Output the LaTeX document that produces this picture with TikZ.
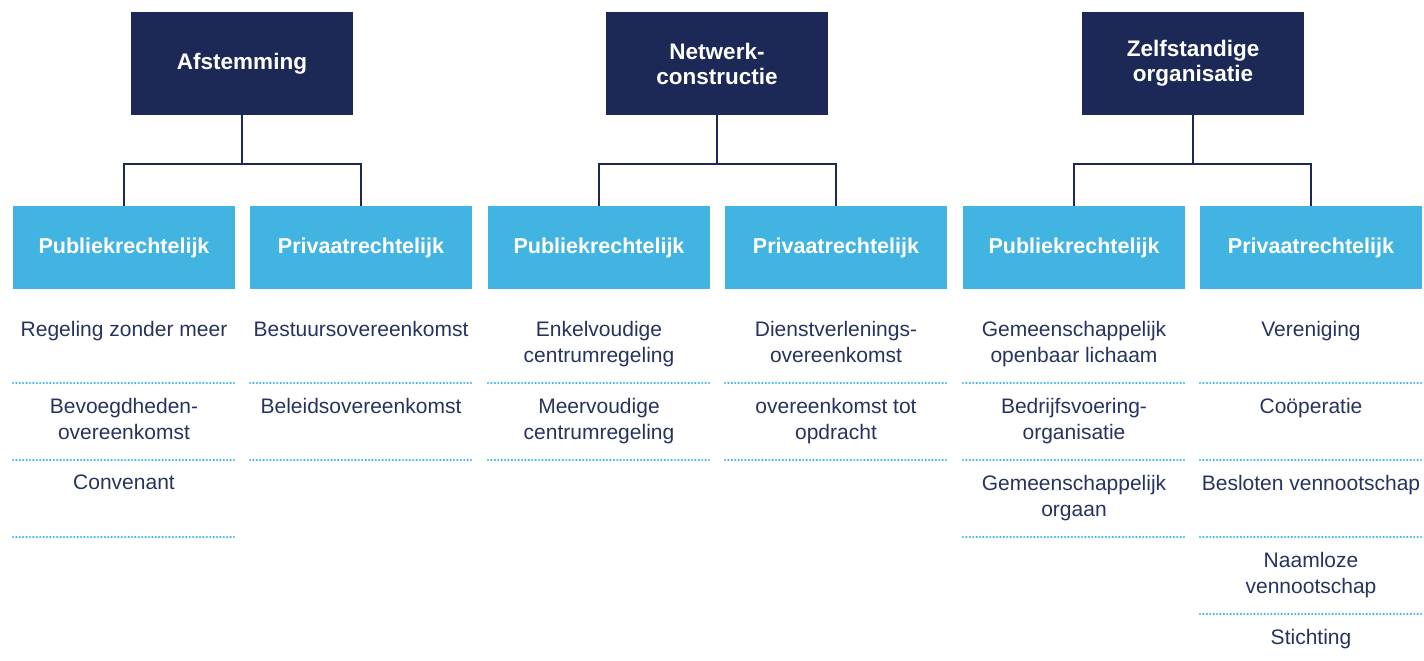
\documentclass[tikz,border=0pt]{standalone}
\usepackage{fontspec}
\setmainfont{Liberation Sans}
\definecolor{navy}{HTML}{1C2957}
\definecolor{sky}{HTML}{42B4E2}
\definecolor{txt}{HTML}{27335F}
\begin{document}
\begin{tikzpicture}[x=1pt,y=-1pt,
 topbox/.style={fill=navy, text=white, minimum width=222pt, minimum height=103pt, inner sep=0pt, font=\fontsize{22.5}{25}\selectfont\bfseries, align=center},
 headbox/.style={fill=sky, text=white, minimum width=222pt, minimum height=83pt, inner sep=0pt, font=\fontsize{21.5}{24}\selectfont\bfseries},
 item/.style={text=txt, anchor=north, inner sep=0pt, align=center, font=\fontsize{21}{26}\selectfont},
 link/.style={draw=navy, line width=2.2pt},
 sep/.style={draw=sky, line width=2.4pt, line cap=round, dash pattern=on 0pt off 3.4pt}]
\useasboundingbox (0,0) rectangle (1424,661);

% top boxes
\node[topbox] (tA) at (242,63.5) {Afstemming};
\node[topbox] (tN) at (717,63.5) {Netwerk-\\constructie};
\node[topbox] (tZ) at (1193,63.5) {Zelfstandige\\organisatie};

% header boxes
\node[headbox] (hA1) at (124,247.5) {Publiekrechtelijk};
\node[headbox] (hA2) at (361,247.5) {Privaatrechtelijk};
\node[headbox] (hN1) at (599,247.5) {Publiekrechtelijk};
\node[headbox] (hN2) at (836,247.5) {Privaatrechtelijk};
\node[headbox] (hZ1) at (1074,247.5) {Publiekrechtelijk};
\node[headbox] (hZ2) at (1311,247.5) {Privaatrechtelijk};

% connectors
\draw[link] (tA.south) -- ++(0,49) -| (hA1.north);
\draw[link] (tA.south) -- ++(0,49) -| (hA2.north);
\draw[link] (tN.south) -- ++(0,49) -| (hN1.north);
\draw[link] (tN.south) -- ++(0,49) -| (hN2.north);
\draw[link] (tZ.south) -- ++(0,49) -| (hZ1.north);
\draw[link] (tZ.south) -- ++(0,49) -| (hZ2.north);

% items
\node[item] (a1r1) at (124,321) {Regeling zonder meer};
\node[item] (a1r2) at (124,398) {Bevoegdheden-\\overeenkomst};
\node[item] (a1r3) at (124,475) {Convenant};
\node[item] (a2r1) at (361,321) {Bestuursovereenkomst};
\node[item] (a2r2) at (361,398) {Beleidsovereenkomst};

\node[item] (n1r1) at (599,321) {Enkelvoudige\\centrumregeling};
\node[item] (n1r2) at (599,398) {Meervoudige\\centrumregeling};
\node[item] (n2r1) at (836,321) {Dienstverlenings-\\overeenkomst};
\node[item] (n2r2) at (836,398) {overeenkomst tot\\opdracht};

\node[item] (z1r1) at (1074,321) {Gemeenschappelijk\\openbaar lichaam};
\node[item] (z1r2) at (1074,398) {Bedrijfsvoering-\\organisatie};
\node[item] (z1r3) at (1074,475) {Gemeenschappelijk\\orgaan};
\node[item] (z2r1) at (1311,321) {Vereniging};
\node[item] (z2r2) at (1311,398) {Coöperatie};
\node[item] (z2r3) at (1311,475) {Besloten vennootschap};
\node[item] (z2r4) at (1311,552) {Naamloze\\vennootschap};
\node[item] (z2r5) at (1311,629) {Stichting};

% dotted separators
\foreach \c/\n in {124/3, 361/2, 599/2, 836/2, 1074/3, 1311/4}{
  \foreach \r in {1,...,\n}{
    \draw[sep] ({\c-111},{306+77*\r}) -- ({\c+111},{306+77*\r});
  }
}
\end{tikzpicture}
\end{document}
